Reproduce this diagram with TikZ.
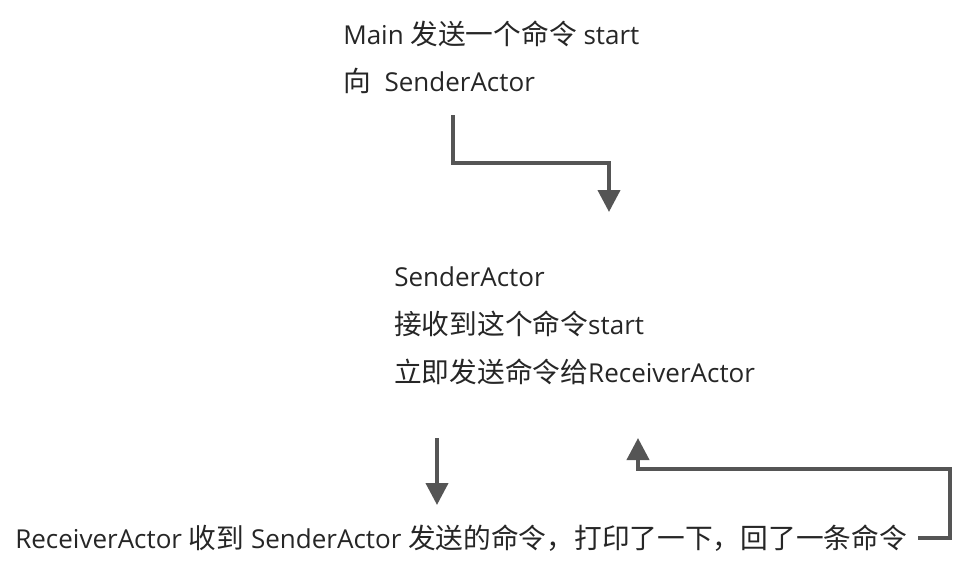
\documentclass[tikz,border=0pt]{standalone}
\usepackage{fontspec}
\setmainfont{Open Sans}
\newfontfamily\zh[Scale=1.065]{Noto Sans CJK SC}
\usetikzlibrary{arrows.meta}
\definecolor{arrowgray}{HTML}{555555}
\definecolor{textgray}{HTML}{262626}

\begin{document}
\begin{tikzpicture}[x=0.025cm, y=-0.025cm,
    txt/.style={anchor=base west, inner sep=0pt, text=textgray,
      font=\fontsize{18.5}{22}\selectfont},
    flow/.style={draw=arrowgray, line width=0.1cm,
      -{Triangle[width=0.55cm,length=0.55cm]}}]
  \useasboundingbox (0,0) rectangle (955,574);

  \node[txt] (main1) at (343,44) {Main {\zh 发送一个命令} start};
  \node[txt] (main2) at (343,91) {{\zh 向}\ \ SenderActor};

  \node[txt] (sender1) at (394,286) {SenderActor};
  \node[txt] (sender2) at (394,334) {{\zh 接收到这个命令}start};
  \node[txt] (sender3) at (394,382) {{\zh 立即发送命令给}ReceiverActor};

  \node[txt] (receiver) at (15,548) {ReceiverActor {\zh 收到} SenderActor {\zh 发送的命令，打印了一下，回了一条命令}};

  \coordinate (mainout) at (453,115);
  \coordinate (senderin) at (609,212);
  \coordinate (senderout) at (437,438);
  \coordinate (receiverin) at (437,505);
  \coordinate (replyout) at (918,538);
  \coordinate (replyin) at (638,438);

  \draw[flow] (mainout) |- (senderin |- 0,163) -- (senderin);
  \draw[flow] (senderout) -- (receiverin);
  \draw[flow] (replyout) -- (950,538) -- (950,469) -| (replyin);
\end{tikzpicture}
\end{document}
